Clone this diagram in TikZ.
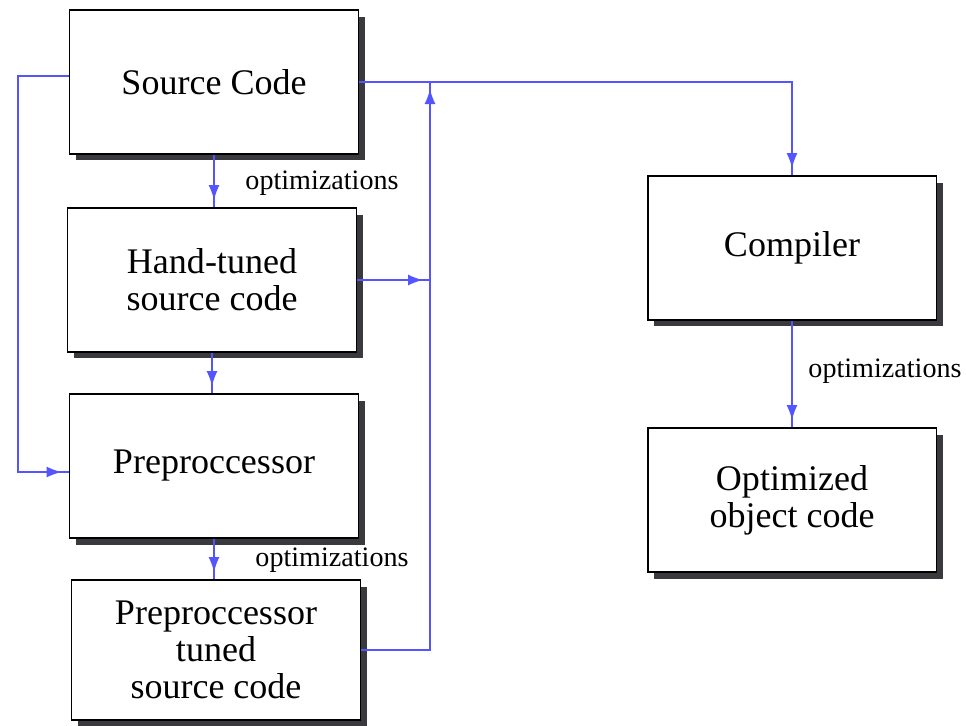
\documentclass[tikz,border=0pt]{standalone}
\usepackage{fontspec}
\setmainfont{Liberation Serif}
\usetikzlibrary{arrows.meta,shadows,decorations.markings}
\definecolor{linkblue}{RGB}{85,85,255}
\definecolor{shade}{RGB}{58,58,62}

\begin{document}
\begin{tikzpicture}[
    x=0.02cm, y=-0.02cm,
    stage/.style={draw, line width=1.1pt, fill=white, minimum width=5.78cm, minimum height=2.88cm, align=center,
      font=\fontsize{20.5}{21}\selectfont,
      drop shadow={shadow xshift=0.13cm, shadow yshift=-0.13cm, fill=shade, opacity=1}},
    flow/.style={draw=linkblue, line width=0.9pt, postaction={decorate},
      decoration={markings, mark=at position -0.14cm with {\arrow[linkblue]{Latex[length=0.3cm,width=0.22cm]}}}},
    note/.style={font=\fontsize{16}{18}\selectfont}
  ]
  \useasboundingbox (0,0) rectangle (966,725);

  % Stages
  \node[stage] (src) at (214,82) {Source Code};
  \node[stage] (hand) at (212,280) {Hand-tuned\\source code};
  \node[stage] (pre) at (214,466) {Preproccessor};
  \node[stage, minimum height=2.8cm] (ptuned) at (216,650) {Preproccessor\\tuned\\source code};
  \node[stage] (comp) at (792,248) {Compiler};
  \node[stage] (opt) at (792,500) {Optimized\\object code};

  % Bends
  \coordinate (bustop) at (430,82);
  \coordinate (loop) at (18,76);

  % Arrows
  \path[flow] (src.south) -- (src.south |- hand.north);
  \path[flow] (hand.south) -- (hand.south |- pre.north);
  \path[flow] (pre.south) -- (pre.south |- ptuned.north);
  \path[flow] (comp.south) -- (opt.north);
  \path[flow] (src.east) -| (comp.north);
  \path[flow] (ptuned.east) -| (bustop);
  \path[flow] (hand.east) -- (hand.east -| bustop);
  \path[flow] ([yshift=0.12cm]src.west) -| ([yshift=-0.12cm]pre.west -| loop) -- ([yshift=-0.12cm]pre.west);

  % Labels
  \node[note] (optA) at (322,183) {optimizations};
  \node[note] (optB) at (332,560) {optimizations};
  \node[note] (optC) at (885,371) {optimizations};
\end{tikzpicture}
\end{document}
